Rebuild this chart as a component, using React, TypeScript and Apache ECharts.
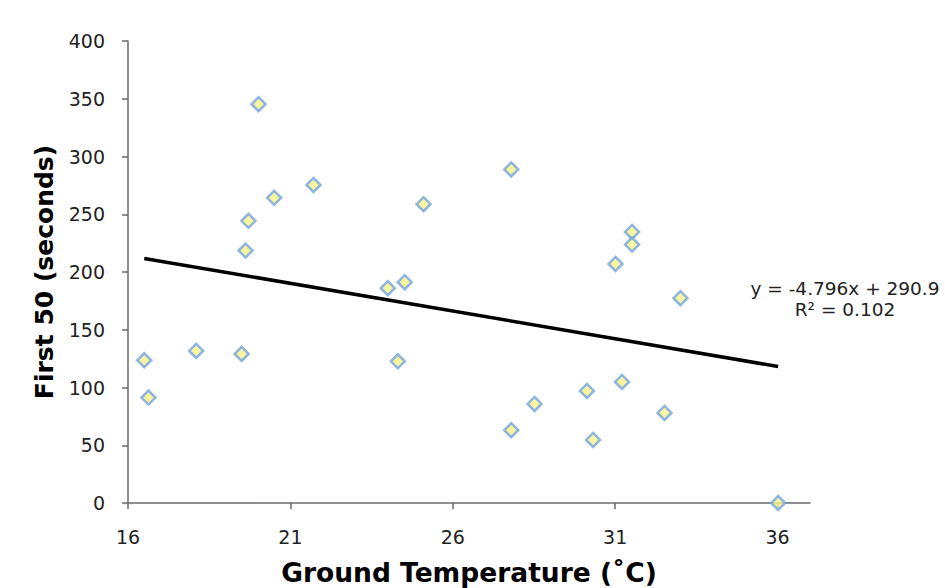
import React, { useEffect, useRef } from 'react';
import * as echarts from 'echarts';

// Ground temperature (°C) and First 50 time (seconds)
const temperature = [
  16.5, 16.63, 18.1, 19.5, 19.62, 19.71, 20.02, 20.5, 21.71, 24.0, 24.31, 24.52, 25.1,
  27.8, 27.8, 28.52, 30.13, 30.32, 31.01, 31.21, 31.52, 31.52, 32.52, 33.01, 36.02,
];
const first50 = [
  123.6, 91.3, 131.7, 129.1, 218.6, 244.3, 345.3, 264.2, 275.4, 186, 122.7, 191.2, 258.7,
  288.8, 63, 85.8, 97, 54.6, 207, 104.8, 234.7, 223.8, 78, 177.3, 0,
];

// Linear trendline as reported in the chart
const trendSlope = -4.796;
const trendIntercept = 290.9;
const trendLabel = ['y = -4.796x + 290.9', 'R² = 0.102'];

const xTicks = [16, 21, 26, 31, 36];

const FONT = "'DejaVu Sans', Verdana, sans-serif";

export default function App() {
  const ref = useRef<HTMLDivElement>(null);

  useEffect(() => {
    if (!ref.current) return;
    const chart = echarts.init(ref.current, null, { renderer: 'svg' });

    const points = temperature.map((t, i) => [t, first50[i]]);
    const xMin = Math.min(...temperature);
    const xMax = Math.max(...temperature);
    const trend = [xMin, xMax].map((x) => [x, trendSlope * x + trendIntercept]);

    const axisColor = '#6a6a6a';

    chart.setOption({
      animation: false,
      backgroundColor: '#ffffff',
      grid: {
        left: 128,
        right: 135,
        top: 41,
        bottom: 85,
        containLabel: false,
        outerBoundsMode: 'none',
      },
      xAxis: {
        type: 'value',
        min: 16,
        max: 37,
        name: 'Ground Temperature (˚C)',
        nameLocation: 'middle',
        nameGap: 54,
        nameTextStyle: {
          fontFamily: FONT,
          fontSize: 26.5,
          lineHeight: 30,
          fontWeight: 'bold',
          color: '#000',
        },
        axisLine: { show: true, onZero: false, lineStyle: { color: axisColor, width: 1.5 } },
        axisTick: {
          show: true,
          inside: false,
          length: 6,
          customValues: xTicks,
          lineStyle: { color: axisColor, width: 1.5 },
        },
        axisLabel: {
          customValues: xTicks,
          margin: 24,
          fontFamily: FONT,
          fontSize: 19,
          color: '#222',
        },
        splitLine: { show: false },
      },
      yAxis: {
        type: 'value',
        min: 0,
        max: 400,
        interval: 50,
        name: 'First 50 (seconds)',
        nameLocation: 'middle',
        nameRotate: 90,
        nameGap: 71,
        nameTextStyle: { fontFamily: FONT, fontSize: 25, fontWeight: 'bold', color: '#000' },
        axisLine: { show: true, onZero: false, lineStyle: { color: axisColor, width: 1.5 } },
        axisTick: { show: true, inside: false, length: 6, lineStyle: { color: axisColor, width: 1.5 } },
        axisLabel: { margin: 23, fontFamily: FONT, fontSize: 19, color: '#222' },
        splitLine: { show: false },
      },
      series: [
        {
          type: 'line',
          data: trend,
          symbol: 'none',
          showSymbol: false,
          silent: true,
          lineStyle: { color: '#000', width: 3.5 },
          z: 1,
        },
        {
          type: 'scatter',
          data: points,
          symbol: 'diamond',
          symbolSize: 14,
          itemStyle: { color: '#f6f28a', borderColor: '#74a2e4', borderWidth: 2.5 },
          z: 2,
        },
      ],
      graphic: [
        {
          type: 'text',
          x: 845,
          y: 278,
          style: {
            text: trendLabel.join('\n'),
            fontFamily: FONT,
            fontSize: 18.5,
            lineHeight: 21,
            fill: '#222',
            textAlign: 'center',
            textVerticalAlign: 'top',
          },
        },
      ],
    });

    return () => chart.dispose();
  }, []);

  return (
    <div
      ref={ref}
      style={{ position: 'fixed', left: 0, top: 0, width: 945, height: 588, background: '#fff' }}
    />
  );
}
